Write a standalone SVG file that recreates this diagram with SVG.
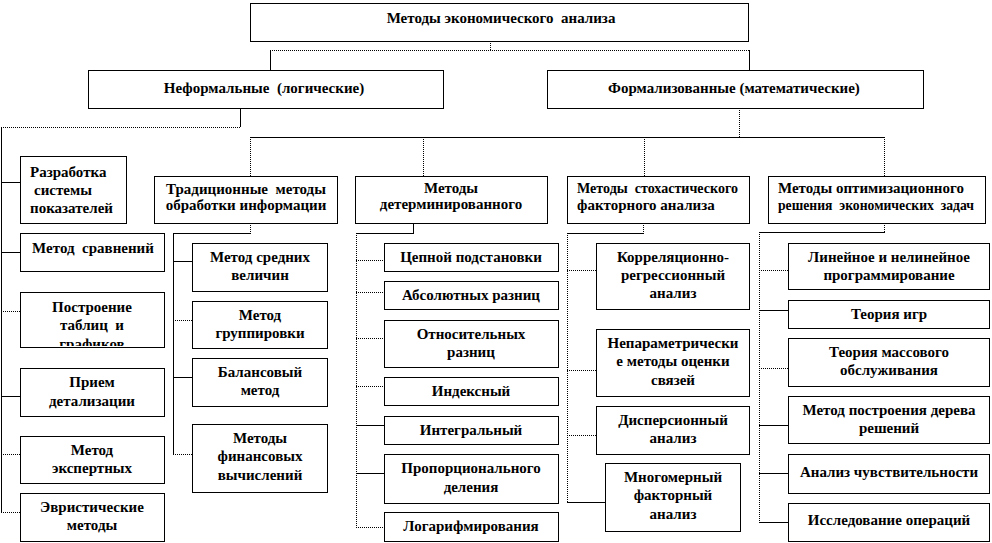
<svg xmlns="http://www.w3.org/2000/svg" width="992" height="543" viewBox="0 0 992 543">
<style>
.box{fill:#fff;stroke:#000;stroke-width:1}
.t{font-family:"Liberation Serif","Times New Roman","DejaVu Serif",serif;font-weight:bold;font-size:15px;fill:#000;white-space:pre}
.m{text-anchor:middle}
.s{stroke:#000;stroke-width:1;fill:none}
.d{stroke:#000;stroke-width:1;fill:none;stroke-dasharray:1 1}
</style>
<defs>
<clipPath id="clipPost"><rect x="20" y="292" width="144" height="54"/></clipPath>
</defs>
<rect width="992" height="543" fill="#fff"/>

<g id="connectors">
<path class="d" d="M490.5 41V50.5M270 50.5H749"/>
<path class="s" d="M270.5 50V70M749.5 50V70"/>
<path class="s" d="M240.5 108V127"/>
<path class="d" d="M1 127.5H240"/>
<path class="s" d="M1.5 127V512"/>
<path class="s" d="M1 182.5H20M1 252.5H20M1 396.5H20"/>
<path class="d" d="M1 311.5H20M1 454.5H20M1 512.5H20"/>
<path class="d" d="M739.5 108V137"/>
<path class="s" d="M250 137.5H885"/>
<path class="d" d="M250.5 137V176M423.5 137V176M644.5 137V176M884.5 137V176"/>
<path class="d" d="M250.5 223V233"/>
<path class="s" d="M173 233.5H251M173.5 233V454"/>
<path class="s" d="M173 261.5H192M173 377.5H192"/>
<path class="d" d="M173 320.5H192M173 454.5H192"/>
<path class="s" d="M413.5 223V233M356 233.5H414"/>
<path class="d" d="M356.5 233V527"/>
<path class="d" d="M356 260.5H384M356 292.5H384M356 338.5H384M356 386.5H384M356 527.5H384"/>
<path class="s" d="M356 425.5H384M356 473.5H384"/>
<path class="d" d="M643.5 223V233"/>
<path class="s" d="M567 233.5H644"/>
<path class="d" d="M567.5 233V502"/>
<path class="d" d="M567 270.5H596M567 370.5H596M567 435.5H596"/>
<path class="s" d="M567 502.5H605"/>
<path class="d" d="M884.5 223V232"/>
<path class="s" d="M759 232.5H885"/>
<path class="d" d="M759.5 232V522"/>
<path class="d" d="M759 270.5H788M759 368.5H788"/>
<path class="s" d="M759 310.5H788M759 425.5H788M759 473.5H788M759 522.5H788"/>
</g>

<g id="root"><rect class="box" x="250.5" y="3.5" width="498" height="38"/><text class="t m" x="501" y="23">Методы экономического  анализа</text></g>
<g id="informal"><rect class="box" x="88.5" y="70.5" width="355" height="38"/><text class="t m" x="264" y="93">Неформальные  (логические)</text></g>
<g id="formal"><rect class="box" x="547.5" y="70.5" width="376" height="38"/><text class="t m" x="734" y="93">Формализованные (математические)</text></g>

<g id="n-razrabotka"><rect class="box" x="20.5" y="156.5" width="106" height="67"/>
<text class="t" x="30" y="177">Разработка</text><text class="t" x="34" y="195">системы</text><text class="t" x="30" y="213">показателей</text></g>
<g id="n-sravn"><rect class="box" x="20.5" y="233.5" width="144" height="38"/><text class="t m" x="93" y="253">Метод  сравнений</text></g>
<g id="n-postr"><rect class="box" x="20.5" y="292.5" width="144" height="55"/>
<text class="t m" x="92" y="312">Построение</text><text class="t m" x="92" y="330">таблиц  и</text>
<text class="t m" x="92" y="349" clip-path="url(#clipPost)">графиков</text></g>
<g id="n-priem"><rect class="box" x="20.5" y="368.5" width="144" height="48"/><text class="t m" x="92" y="387">Прием</text><text class="t m" x="92" y="406">детализации</text></g>
<g id="n-expert"><rect class="box" x="20.5" y="436.5" width="144" height="47"/><text class="t m" x="92" y="455">Метод</text><text class="t m" x="92" y="473">экспертных</text></g>
<g id="n-evr"><rect class="box" x="20.5" y="493.5" width="144" height="48"/><text class="t m" x="92" y="512">Эвристические</text><text class="t m" x="92" y="530">методы</text></g>

<g id="h-trad"><rect class="box" x="154.5" y="176.5" width="183" height="47"/><text class="t m" x="246" y="194">Традиционные  методы</text><text class="t m" x="246" y="210">обработки информации</text></g>
<g id="h-det"><rect class="box" x="355.5" y="176.5" width="192" height="47"/><text class="t m" x="451" y="193">Методы</text><text class="t m" x="451" y="209">детерминированного</text></g>
<g id="h-stoch"><rect class="box" x="567.5" y="176.5" width="182" height="47"/><text class="t" x="577" y="193" textLength="161" lengthAdjust="spacingAndGlyphs">Методы  стохастического</text><text class="t" x="577" y="210">факторного анализа</text></g>
<g id="h-opt"><rect class="box" x="768.5" y="176.5" width="217" height="47"/><text class="t" x="778" y="193">Методы оптимизационного</text><text class="t" x="778" y="210" textLength="196" lengthAdjust="spacingAndGlyphs">решения  экономических  задач</text></g>

<g id="t1"><rect class="box" x="192.5" y="243.5" width="135" height="48"/><text class="t m" x="260" y="262">Метод средних</text><text class="t m" x="260" y="280">величин</text></g>
<g id="t2"><rect class="box" x="192.5" y="301.5" width="135" height="47"/><text class="t m" x="260" y="320">Метод</text><text class="t m" x="260" y="338">группировки</text></g>
<g id="t3"><rect class="box" x="192.5" y="358.5" width="135" height="48"/><text class="t m" x="260" y="377">Балансовый</text><text class="t m" x="260" y="395">метод</text></g>
<g id="t4"><rect class="box" x="192.5" y="424.5" width="135" height="68"/><text class="t m" x="260" y="443">Методы</text><text class="t m" x="260" y="461">финансовых</text><text class="t m" x="260" y="480">вычислений</text></g>

<g id="d1"><rect class="box" x="384.5" y="243.5" width="174" height="28"/><text class="t m" x="471" y="262">Цепной подстановки</text></g>
<g id="d2"><rect class="box" x="384.5" y="281.5" width="174" height="28"/><text class="t m" x="471" y="300">Абсолютных разниц</text></g>
<g id="d3"><rect class="box" x="384.5" y="320.5" width="174" height="47"/><text class="t m" x="471" y="339">Относительных</text><text class="t m" x="471" y="357">разниц</text></g>
<g id="d4"><rect class="box" x="384.5" y="377.5" width="174" height="28"/><text class="t m" x="471" y="396">Индексный</text></g>
<g id="d5"><rect class="box" x="384.5" y="416.5" width="174" height="28"/><text class="t m" x="471" y="435">Интегральный</text></g>
<g id="d6"><rect class="box" x="384.5" y="454.5" width="174" height="49"/><text class="t m" x="471" y="473">Пропорционального</text><text class="t m" x="471" y="492">деления</text></g>
<g id="d7"><rect class="box" x="384.5" y="512.5" width="174" height="29"/><text class="t m" x="471" y="531">Логарифмирования</text></g>

<g id="s1"><rect class="box" x="596.5" y="243.5" width="153" height="66"/><text class="t m" x="673" y="262">Корреляционно-</text><text class="t m" x="673" y="280">регрессионный</text><text class="t m" x="673" y="298">анализ</text></g>
<g id="s2"><rect class="box" x="596.5" y="329.5" width="153" height="67"/><text class="t m" x="673" y="348">Непараметрически</text><text class="t m" x="673" y="366">е методы оценки</text><text class="t m" x="673" y="385">связей</text></g>
<g id="s3"><rect class="box" x="596.5" y="406.5" width="153" height="48"/><text class="t m" x="673" y="425">Дисперсионный</text><text class="t m" x="673" y="443">анализ</text></g>
<g id="s4"><rect class="box" x="605.5" y="463.5" width="135" height="68"/><text class="t m" x="673" y="482">Многомерный</text><text class="t m" x="673" y="500">факторный</text><text class="t m" x="673" y="519">анализ</text></g>

<g id="o1"><rect class="box" x="788.5" y="243.5" width="201" height="46"/><text class="t m" x="889" y="262">Линейное и нелинейное</text><text class="t m" x="889" y="280">программирование</text></g>
<g id="o2"><rect class="box" x="788.5" y="300.5" width="201" height="28"/><text class="t m" x="889" y="319">Теория игр</text></g>
<g id="o3"><rect class="box" x="788.5" y="338.5" width="201" height="48"/><text class="t m" x="889" y="357">Теория массового</text><text class="t m" x="889" y="375">обслуживания</text></g>
<g id="o4"><rect class="box" x="788.5" y="396.5" width="201" height="47"/><text class="t m" x="889" y="415">Метод построения дерева</text><text class="t m" x="889" y="433">решений</text></g>
<g id="o5"><rect class="box" x="788.5" y="454.5" width="201" height="39"/><text class="t m" x="889" y="477">Анализ чувствительности</text></g>
<g id="o6"><rect class="box" x="788.5" y="503.5" width="201" height="38"/><text class="t m" x="889" y="525">Исследование операций</text></g>
</svg>
